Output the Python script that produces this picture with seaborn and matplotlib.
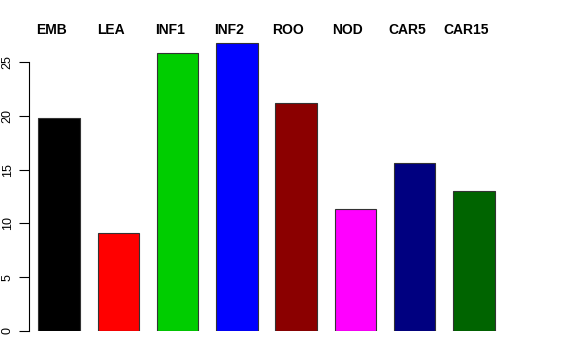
import pandas as pd
import matplotlib.pyplot as plt
import seaborn as sns

# tissue samples and their values
samples = ["EMB", "LEA", "INF1", "INF2", "ROO", "NOD", "CAR5", "CAR15"]
values = [19.8, 9.1, 25.8, 26.8, 21.2, 11.3, 15.6, 13.0]
colors = ["#000000", "#FF0000", "#00CD00", "#0000FF",
          "#8B0000", "#FF00FF", "#000080", "#006400"]

df = pd.DataFrame({"sample": samples, "value": values})

sns.set_style("white")
plt.rcParams["font.family"] = ["Liberation Sans", "DejaVu Sans"]
plt.rcParams["text.color"] = "black"
plt.rcParams["ytick.color"] = "black"
plt.rcParams["ytick.labelcolor"] = "black"

fig = plt.figure(figsize=(5.76, 3.6), dpi=100)
ax = fig.add_axes([29 / 576, 29 / 360, (545 - 29) / 576, (331 - 40) / 360])

sns.barplot(data=df, x="sample", y="value", hue="sample", palette=colors,
            legend=False, width=0.7, edgecolor="#333333", linewidth=0.8,
            ax=ax, saturation=1)

ax.set_xlim(-0.506, 8.2)
ax.set_ylim(0, 27.05)

# sample names above the bars
for i, s in enumerate(samples):
    ax.text(i - 0.13, 27.97, s, ha="center", va="center", fontsize=10,
            fontweight="bold", color="black", clip_on=False)

for side in ["top", "right", "bottom"]:
    ax.spines[side].set_visible(False)
ax.spines["left"].set_bounds(0, 25)
ax.spines["left"].set_color("black")
ax.spines["left"].set_linewidth(0.8)

ax.set_yticks([0, 5, 10, 15, 20, 25])
ax.set_yticklabels(["0", "5", "10", "15", "20", "25"], rotation=90,
                   va="center", fontsize=9, color="black")
ax.tick_params(axis="y", left=True, length=7, width=0.8, pad=4,
               color="black")
ax.set_xticks([])
ax.set_xlabel("")
ax.set_ylabel("")

fig.savefig("out.png", dpi=100)
plt.close(fig)
